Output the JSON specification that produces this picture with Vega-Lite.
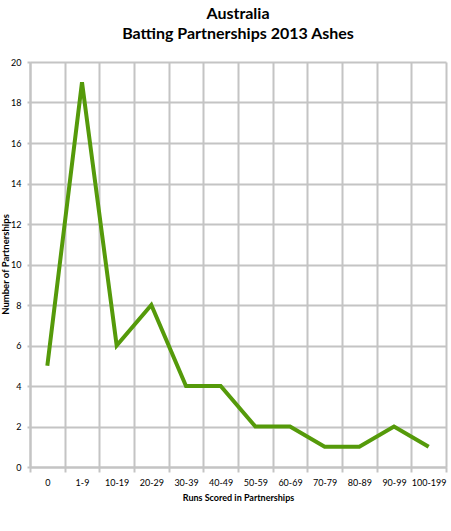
{
  "$schema": "https://vega.github.io/schema/vega-lite/v6.json",
  "width": 416,
  "height": 405,
  "autosize": "none",
  "padding": {"left": 30, "top": 62, "right": 5, "bottom": 64},
  "background": "white",
  "title": {
    "text": ["Australia", "Batting Partnerships 2013 Ashes"],
    "font": "Lato",
    "fontSize": 16,
    "fontWeight": "bold",
    "color": "black",
    "anchor": "middle",
    "lineHeight": 20,
    "offset": 16
  },
  "data": {
    "values": [
      {"runs": "0", "count": 5},
      {"runs": "1-9", "count": 19},
      {"runs": "10-19", "count": 6},
      {"runs": "20-29", "count": 8},
      {"runs": "30-39", "count": 4},
      {"runs": "40-49", "count": 4},
      {"runs": "50-59", "count": 2},
      {"runs": "60-69", "count": 2},
      {"runs": "70-79", "count": 1},
      {"runs": "80-89", "count": 1},
      {"runs": "90-99", "count": 2},
      {"runs": "100-199", "count": 1}
    ]
  },
  "mark": {"type": "line", "color": "#559a0a", "strokeWidth": 4, "strokeJoin": "miter"},
  "encoding": {
    "x": {
      "field": "runs",
      "type": "nominal",
      "sort": null,
      "bandPosition": 0.5,
      "scale": {"type": "band", "paddingInner": 0, "paddingOuter": 0},
      "axis": {
        "title": "Runs Scored in Partnerships",
        "titleFont": "Lato",
        "titleFontSize": 9,
        "titleFontWeight": "bold",
        "titleColor": "black",
        "titlePadding": 6,
        "labelFont": "Lato",
        "labelFontSize": 9,
        "labelColor": "black",
        "labelAngle": 0,
        "labelPadding": 6,
        "tickBand": "extent",
        "grid": true,
        "gridColor": "#c4c4c4",
        "gridWidth": 2,
        "domainColor": "#c4c4c4",
        "domainWidth": 2,
        "tickColor": "#c4c4c4",
        "tickWidth": 2,
        "tickSize": 5
      }
    },
    "y": {
      "field": "count",
      "type": "quantitative",
      "scale": {"domain": [0, 20], "nice": false},
      "axis": {
        "title": "Number of Partnerships",
        "titleFont": "Lato",
        "titleFontSize": 9.5,
        "titleFontWeight": "bold",
        "titleColor": "black",
        "titleX": -22,
        "titleY": 202,
        "titleAngle": -90,
        "titleBaseline": "alphabetic",
        "titleAlign": "center",
        "labelFont": "Lato",
        "labelFontSize": 9,
        "labelColor": "black",
        "labelPadding": 6,
        "values": [0, 2, 4, 6, 8, 10, 12, 14, 16, 18, 20],
        "grid": true,
        "gridColor": "#c4c4c4",
        "gridWidth": 2,
        "domainColor": "#c4c4c4",
        "domainWidth": 2,
        "tickColor": "#c4c4c4",
        "tickWidth": 2,
        "tickSize": 3
      }
    }
  },
  "config": {"view": {"stroke": null}}
}
